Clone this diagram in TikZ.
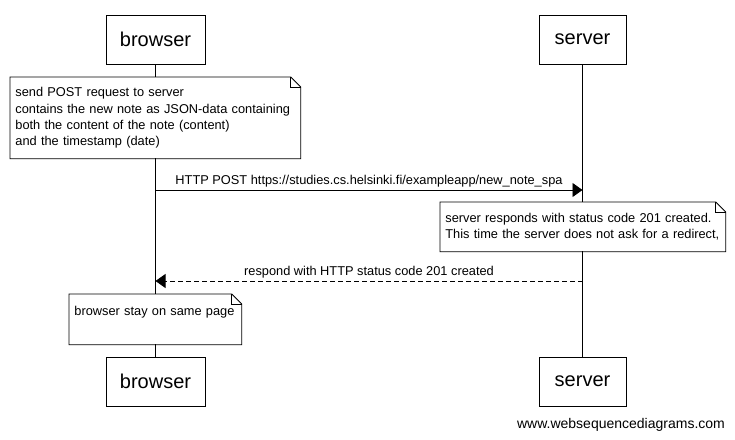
\documentclass[tikz,border=0pt]{standalone}
\usepackage{fontspec}
\setmainfont{Liberation Sans}
\usetikzlibrary{arrows.meta}

\begin{document}
\begin{tikzpicture}[x=1pt,y=-1pt,line width=0.8pt,
		actor/.style={draw,minimum height=49pt,inner sep=0pt,font=\fontsize{20}{24}\selectfont},
		notebox/.style={fill=white,anchor=north west,align=left,inner xsep=5pt,inner ysep=0pt,font=\fontsize{12.8}{16.3}\selectfont},
		msg/.style={-{Triangle[length=10pt,width=14pt]}},
		reply/.style={msg,dash pattern=on 5pt off 3pt},
		lbl/.style={above,inner sep=2pt,font=\fontsize{12.8}{15}\selectfont}]
	\useasboundingbox (0,0) rectangle (735,439);
	% participants, top and bottom
	\node[actor,minimum width=99pt] (b1) at (155.5,39.5) {browser};
	\node[actor,minimum width=87pt] (s1) at (582.5,39.5) {server};
	\node[actor,minimum width=99pt] (b2) at (155.5,381.5) {browser};
	\node[actor,minimum width=87pt] (s2) at (582.5,381.5) {server};
	\draw (b1) -- (b2);
	\draw (s1) -- (s2);
	% notes
	\node[notebox,text width=280pt,minimum height=81pt] (n1) at (10,77) {send POST request to server\\
		contains the new note as JSON-data containing\\
		both the content of the note (content)\\
		and the timestamp (date)};
	\node[notebox,text width=275pt,minimum height=49pt] (n2) at (440,202) {server responds with status code 201 created.\\
		This time the server does not ask for a redirect,};
	\node[notebox,text width=162pt,minimum height=50pt] (n3) at (69,294) {browser stay on same page\\ \mbox{}};
	\foreach \n in {n1,n2,n3} {
		\draw (\n.south west) -- (\n.south east) -- ([yshift=-10pt]\n.north east)
			-- ([xshift=-10pt]\n.north east) -- (\n.north west) -- cycle;
		\draw ([xshift=-10pt]\n.north east) |- ([yshift=-10pt]\n.north east);
	}
	% messages
	\coordinate (p1) at (b1 |- 0,190);
	\coordinate (p2) at (s1 |- 0,190);
	\coordinate (q1) at (b1 |- 0,281);
	\coordinate (q2) at (s1 |- 0,281);
	\draw[msg] (p1) -- node[lbl] {HTTP POST https://studies.cs.helsinki.fi/exampleapp/new\_note\_spa} (p2);
	\draw[reply] (q2) -- node[lbl] {respond with HTTP status code 201 created} (q1);
	\node[font=\fontsize{14}{17}\selectfont] (wm) at (621,425) {www.websequencediagrams.com};
\end{tikzpicture}
\end{document}
